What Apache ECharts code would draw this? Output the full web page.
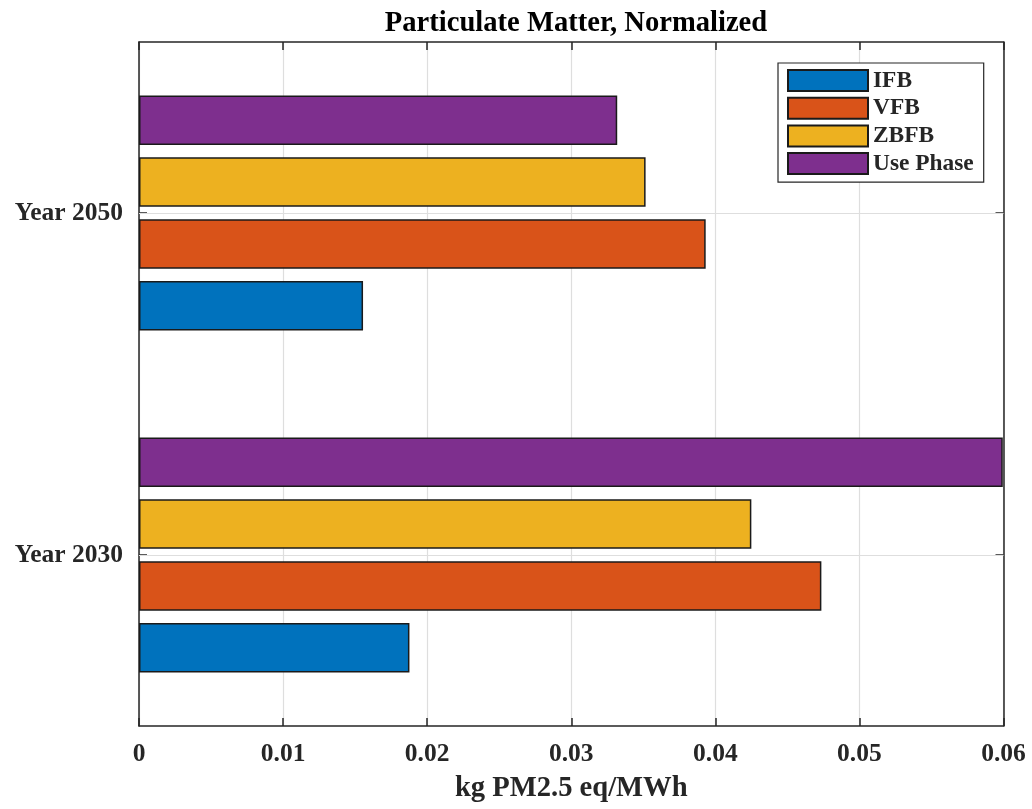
<!DOCTYPE html>
<html>
<head>
<meta charset="utf-8">
<title>Particulate Matter, Normalized</title>
<script src="https://cdn.jsdelivr.net/npm/echarts@6/dist/echarts.min.js"></script>
<style>
  html, body { margin: 0; padding: 0; background: #fff; }
  #chart { width: 1032px; height: 809px; }
</style>
</head>
<body>
<div id="chart"></div>
<script>
// Categories and values (kg PM2.5 eq/MWh)
const categories = ['Year 2030', 'Year 2050'];
const seriesNames = ['IFB', 'VFB', 'ZBFB', 'Use Phase'];
const ifb = [0.01877, 0.01555];
const vfb = [0.04736, 0.03933];
const zbfb = [0.04250, 0.03516];
const usePhase = [0.05995, 0.03319];
const xTickLabels = ['0', '0.01', '0.02', '0.03', '0.04', '0.05', '0.06'];

const colors = ['#0072BD', '#D95319', '#EDB120', '#7E2F8E'];
const seriesValues = [ifb, vfb, zbfb, usePhase];

const FONT = '"Liberation Serif", "Times New Roman", serif';
const INK = '#262626';
const GRID = '#dedede';

const chart = echarts.init(document.getElementById('chart'), null, { renderer: 'canvas' });

const valueAxisBase = {
  type: 'value',
  min: 0,
  max: 0.06,
  interval: 0.01,
  axisLine: { show: true, onZero: false, lineStyle: { color: INK, width: 1.5 } },
  axisTick: { show: true, inside: true, length: 8, lineStyle: { color: INK, width: 1.5 } }
};

const categoryAxisBase = {
  type: 'category',
  data: categories,
  axisLine: { show: true, onZero: false, lineStyle: { color: INK, width: 1.5 } },
  axisTick: { show: true, inside: true, length: 8, alignWithLabel: true, lineStyle: { color: INK, width: 1.5 } },
  splitLine: { show: false }
};

// Bars in each group stack top-down in series order, so declare them
// from the topmost (Use Phase) to the bottommost (IFB).
const barSeries = seriesNames.map((name, i) => ({
  name: name,
  type: 'bar',
  data: seriesValues[i],
  barWidth: 49.5,
  barGap: '25%',
  itemStyle: { color: colors[i], borderColor: '#1a1a1a', borderWidth: 1.5 },
  emphasis: { disabled: true },
  z: 3
})).reverse();

// Horizontal grid lines at the category positions
const gridLineSeries = {
  name: 'grid',
  type: 'line',
  data: [],
  silent: true,
  z: 1,
  markLine: {
    silent: true,
    symbol: 'none',
    label: { show: false },
    lineStyle: { color: GRID, width: 1.2, type: 'solid' },
    data: categories.map(c => ({ yAxis: c }))
  }
};

chart.setOption({
  animation: false,
  backgroundColor: '#ffffff',
  title: {
    text: 'Particulate Matter, Normalized',
    left: 571,
    textAlign: 'center',
    top: 4,
    textStyle: { fontFamily: FONT, fontWeight: 'bold', fontSize: 28.6, color: '#000' }
  },
  legend: {
    data: seriesNames,
    orient: 'vertical',
    left: 778,
    top: 63,
    padding: [6, 10, 7, 9],
    itemWidth: 80,
    itemHeight: 21,
    itemGap: 4.7,
    icon: 'rect',
    backgroundColor: '#ffffff',
    borderColor: INK,
    borderWidth: 1.2,
    textStyle: { fontFamily: FONT, fontWeight: 'bold', fontSize: 23.4, color: INK, lineHeight: 23, padding: [0, 0, 0, 0] },
    selectedMode: false
  },
  grid: { left: 139, right: 28.5, top: 42, bottom: 83, containLabel: false },
  xAxis: [
    Object.assign({}, valueAxisBase, {
      position: 'bottom',
      name: 'kg PM2.5 eq/MWh',
      nameLocation: 'middle',
      nameGap: 48,
      nameTextStyle: { fontFamily: FONT, fontWeight: 'bold', fontSize: 28.6, color: INK },
      axisLabel: {
        show: true,
        margin: 15,
        fontFamily: FONT,
        fontWeight: 'bold',
        fontSize: 25.5,
        color: INK,
        formatter: v => xTickLabels[Math.round(v / 0.01)]
      },
      splitLine: { show: true, lineStyle: { color: GRID, width: 1.2 } }
    }),
    Object.assign({}, valueAxisBase, {
      position: 'top',
      axisLabel: { show: false },
      splitLine: { show: false }
    })
  ],
  yAxis: [
    Object.assign({}, categoryAxisBase, {
      position: 'left',
      axisLabel: { show: true, margin: 16, fontFamily: FONT, fontWeight: 'bold', fontSize: 25.5, color: INK }
    }),
    Object.assign({}, categoryAxisBase, {
      position: 'right',
      axisLabel: { show: false }
    })
  ],
  series: [gridLineSeries].concat(barSeries)
});
</script>
</body>
</html>
